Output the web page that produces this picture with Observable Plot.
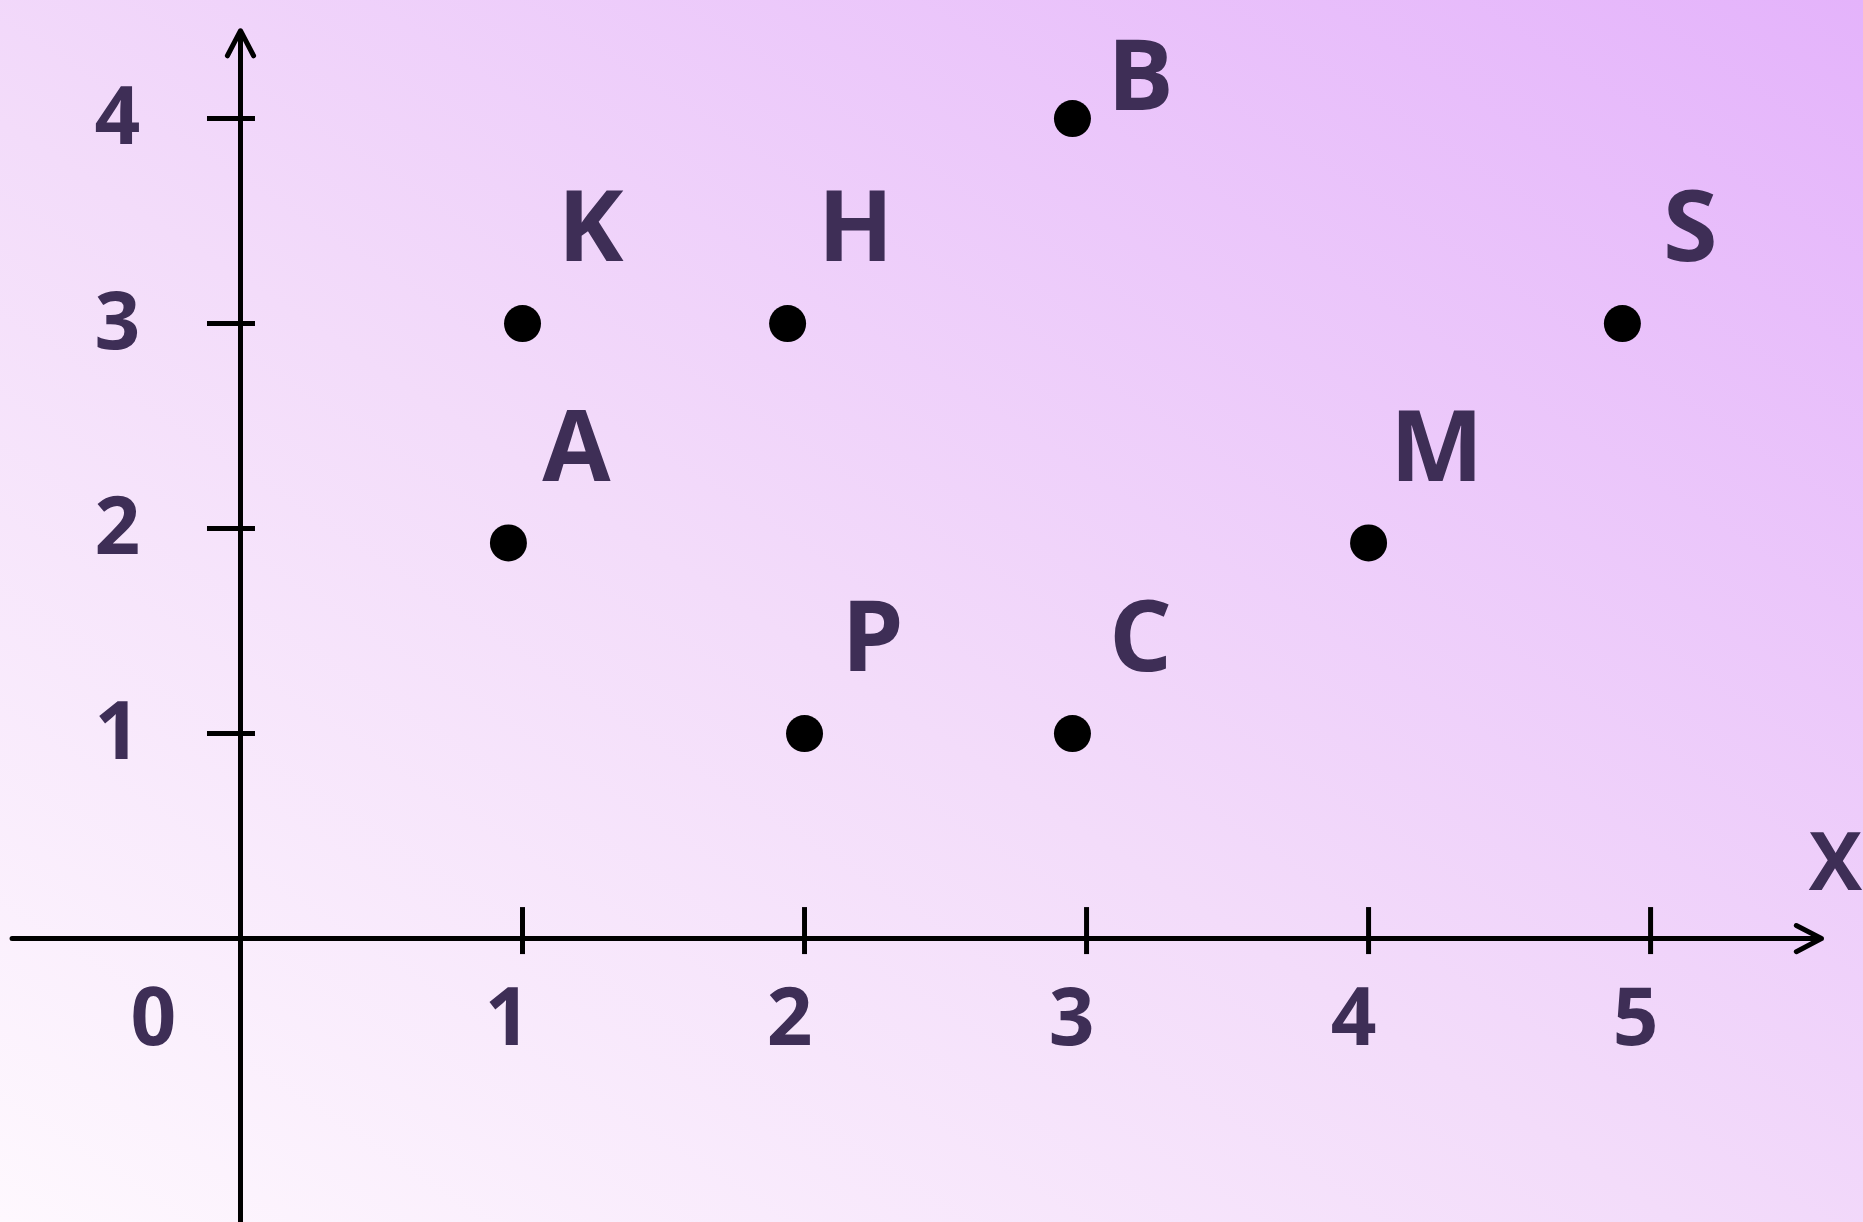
<!DOCTYPE html>
<html>
<head>
<meta charset="utf-8">
<script src="https://cdn.jsdelivr.net/npm/d3@7"></script>
<script src="https://cdn.jsdelivr.net/npm/@observablehq/plot@0.6"></script>
<style>
  html, body { margin: 0; padding: 0; }
  body {
    width: 1863px; height: 1222px; overflow: hidden;
    background: linear-gradient(to top right, #fef8fe 0%, #f3dcfa 45%, #e4b3fb 100%);
  }
  #chart svg { display: block; }
</style>
</head>
<body>
<div id="chart"></div>
<script>
// ---- data ----
const pointNames = ["K", "H", "B", "A", "M", "P", "C", "S"];
const pointX     = [1, 1.94, 2.95, 0.95, 4, 2, 2.95, 4.9];
const pointY     = [3, 3, 4, 1.93, 1.93, 1, 1, 3];

const xTicks = [1, 2, 3, 4, 5];
const yTicks = [1, 2, 3, 4];
const xTickLabels = ["1", "2", "3", "4", "5"];
const yTickLabels = ["1", "2", "3", "4"];
const originLabel = "0";
const xAxisName = "X";

// axis extents (data units)
const xAxisExtent = [-0.81, 5.606];
const yAxisExtent = [-1.4, 4.429];

// view window (data units)
const xDomain = [-0.851, 5.755];
const yDomain = [-1.385, 4.576];

const points = pointNames.map((name, i) => ({name, x: pointX[i], y: pointY[i]}));
const textColor = "#3e2e56";
const font = "'Open Sans', 'Noto Sans', sans-serif";

const labelSize = 99;
const labelDx = 68;
const labelDy = -94;
// keep each label's full text box inside the frame (ascent of Open Sans ≈ 1.069em)
const labelMinCenter = (1.069 - 0.32) * labelSize + 4;

const plot = Plot.plot({
  width: 1863,
  height: 1222,
  margin: 0,
  x: {domain: xDomain, axis: null},
  y: {domain: yDomain, axis: null},
  style: {background: "transparent", fontFamily: font, overflow: "visible"},
  marks: [
    // axes with arrows
    Plot.arrow([0], {
      x1: xAxisExtent[0], x2: xAxisExtent[1], y1: 0, y2: 0,
      stroke: "black", strokeWidth: 5, headAngle: 55, headLength: 8.5
    }),
    Plot.arrow([0], {
      x1: 0, x2: 0, y1: yAxisExtent[0], y2: yAxisExtent[1],
      stroke: "black", strokeWidth: 5, headAngle: 55, headLength: 8.5
    }),
    // tick marks
    Plot.ruleX(xTicks, {
      x: d => d, y1: 0, y2: 0, insetTop: 16, insetBottom: 31,
      stroke: "black", strokeWidth: 5
    }),
    Plot.ruleY(yTicks, {
      y: d => d, x1: 0, x2: 0, insetLeft: -33, insetRight: -15,
      stroke: "black", strokeWidth: 5
    }),
    // tick labels
    Plot.text(xTicks, {
      x: d => d, y: 0, text: (d, i) => xTickLabels[i],
      dx: -15, dy: 81, fontSize: 80, fontWeight: "bold", fill: textColor,
      textAnchor: "middle", lineAnchor: "middle"
    }),
    Plot.text(yTicks, {
      x: 0, y: d => d, text: (d, i) => yTickLabels[i],
      dx: -123, dy: 0, fontSize: 80, fontWeight: "bold", fill: textColor,
      textAnchor: "middle", lineAnchor: "middle"
    }),
    Plot.text([originLabel], {
      x: 0, y: 0, text: d => d,
      dx: -87, dy: 81, fontSize: 80, fontWeight: "bold", fill: textColor,
      textAnchor: "middle", lineAnchor: "middle"
    }),
    Plot.text([xAxisName], {
      x: xAxisExtent[1], y: 0, text: d => d,
      dx: 14, dy: -74, fontSize: 80, fontWeight: "bold", fill: textColor,
      textAnchor: "middle", lineAnchor: "middle"
    }),
    // points
    Plot.dot(points, {x: "x", y: "y", r: 18.5, fill: "black", stroke: "none"}),
    Plot.text(points, {
      x: "x", y: "y", text: "name",
      dx: labelDx, dy: 0, fontSize: labelSize, fontWeight: "bold", fill: textColor,
      textAnchor: "middle", lineAnchor: "middle",
      render(index, scales, values, dimensions, context, next) {
        const Y = Array.from(values.y, y => Math.max(y + labelDy, labelMinCenter));
        return next(index, scales, {...values, y: Y}, dimensions, context);
      }
    })
  ]
});

document.getElementById("chart").appendChild(plot);
</script>
</body>
</html>
